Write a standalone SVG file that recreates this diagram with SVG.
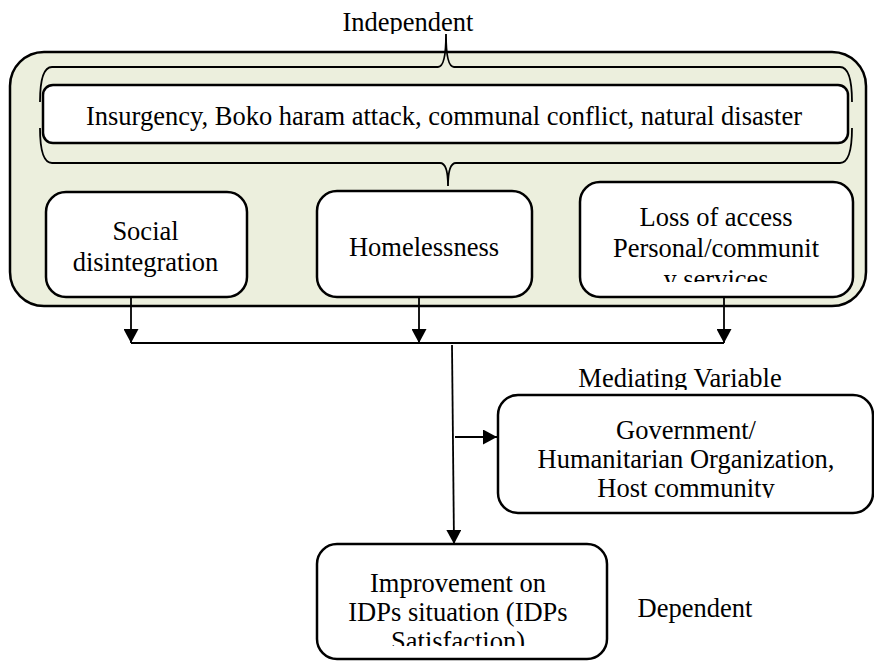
<svg xmlns="http://www.w3.org/2000/svg" width="874" height="661" viewBox="0 0 874 661" font-family="'Liberation Serif', 'Times New Roman', serif">
<defs>
<style>
text{font-family:'Liberation Serif','Times New Roman',serif;font-size:26.5px;fill:#000;text-anchor:middle}
.box{fill:#fff;stroke:#000;stroke-width:2.5}
.ln{fill:none;stroke:#000;stroke-width:1.8}
</style>
<marker id="ah" viewBox="0 0 14 15" refX="14" refY="7.5" markerWidth="14" markerHeight="15" markerUnits="userSpaceOnUse" orient="auto"><path d="M0,0 L14,7.5 L0,15 z" fill="#000"/></marker>
<clipPath id="c0"><rect x="300" y="0" width="300" height="34"/></clipPath>
<clipPath id="cm"><rect x="560" y="350" width="250" height="40"/></clipPath>
<clipPath id="c1"><rect x="580" y="182" width="273" height="100"/></clipPath>
<clipPath id="c2"><rect x="498" y="395" width="375" height="103"/></clipPath>
<clipPath id="c3"><rect x="317" y="544" width="290" height="102"/></clipPath>
</defs>
<g id="outer"><rect x="10" y="52" width="856" height="254" rx="34" fill="#ecefdd" stroke="#000" stroke-width="2.5"/></g>
<g id="label-independent"><text x="408" y="31" clip-path="url(#c0)">Independent</text></g>
<g id="brace-top"><path class="ln" d="M40,102 Q40,67 52,67 L438,67 Q446,67 446,34 Q446,67 454,67 L840,67 Q852,67 852,102"/></g>
<g id="cause"><rect class="box" x="43" y="85" width="805" height="58" rx="10"/><text x="444" y="125">Insurgency, Boko haram attack, communal conflict, natural disaster</text></g>
<g id="brace-bottom"><path class="ln" d="M40,128 Q40,163 52,163 L440,163 Q448,163 448,186 Q448,163 456,163 L840,163 Q852,163 852,128"/></g>
<g id="social"><rect class="box" x="46" y="192" width="201" height="105" rx="20"/><text x="145.5" y="240">Social</text><text x="145.5" y="271">disintegration</text></g>
<g id="homeless"><rect class="box" x="317" y="191" width="215" height="106" rx="20"/><text x="424" y="256">Homelessness</text></g>
<g id="loss"><rect class="box" x="580" y="182" width="273" height="115" rx="20"/><g clip-path="url(#c1)"><text x="716" y="226">Loss of access</text><text x="716" y="257">Personal/communit</text><text x="716" y="288">y services</text></g></g>
<g id="label-mediating"><text x="680" y="387" clip-path="url(#cm)">Mediating Variable</text></g>
<g id="gov"><rect class="box" x="498" y="395" width="375" height="118" rx="20"/><g clip-path="url(#c2)"><text x="686" y="439">Government/</text><text x="686" y="468">Humanitarian Organization,</text><text x="686" y="497">Host community</text></g></g>
<g id="improve"><rect class="box" x="317" y="544" width="290" height="115" rx="20"/><g clip-path="url(#c3)"><text x="458" y="592">Improvement on</text><text x="458" y="621">IDPs situation (IDPs</text><text x="458" y="650">Satisfaction)</text></g></g>
<g id="label-dependent"><text x="695" y="617">Dependent</text></g>
<g id="connectors">
<line class="ln" x1="131" y1="297" x2="131" y2="343" marker-end="url(#ah)"/>
<line class="ln" x1="419" y1="297" x2="419" y2="343" marker-end="url(#ah)"/>
<line class="ln" x1="724" y1="297" x2="724" y2="343" marker-end="url(#ah)"/>
<line class="ln" x1="131" y1="343" x2="724" y2="343"/>
<line class="ln" x1="452" y1="345" x2="454" y2="544" marker-end="url(#ah)"/>
<line class="ln" x1="455" y1="437" x2="497" y2="437" marker-end="url(#ah)"/>
</g>
</svg>
